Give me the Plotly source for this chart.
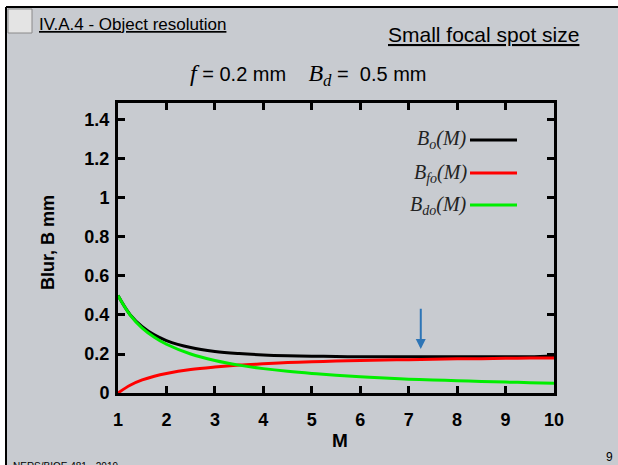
import plotly.graph_objects as go

# ---- data ----
M = [1, 1.25, 1.5, 1.75, 2, 2.5, 3, 3.5, 4, 4.5, 5, 5.5, 6, 6.5, 7, 7.5, 8, 8.5, 9, 9.5, 10]
B_o = [0.5, 0.402, 0.340, 0.298, 0.269, 0.233, 0.213, 0.202, 0.195, 0.191, 0.189, 0.187,
       0.186, 0.186, 0.186, 0.186, 0.186, 0.186, 0.186, 0.186, 0.19]
B_fo = [0.0, 0.04, 0.067, 0.086, 0.1, 0.12, 0.133, 0.143, 0.15, 0.156, 0.16, 0.164,
        0.167, 0.169, 0.171, 0.173, 0.175, 0.176, 0.178, 0.179, 0.18]
B_do = [0.5, 0.4, 0.333, 0.286, 0.25, 0.2, 0.167, 0.143, 0.125, 0.111, 0.1, 0.091,
        0.083, 0.077, 0.071, 0.067, 0.063, 0.059, 0.056, 0.053, 0.05]
x_ticks = [1, 2, 3, 4, 5, 6, 7, 8, 9, 10]
y_ticks = [0, 0.2, 0.4, 0.6, 0.8, 1, 1.2, 1.4]
y_tick_labels = ["0", "0.2", "0.4", "0.6", "0.8", "1", "1.2", "1.4"]
series_names = ["B<sub>o</sub>(M)", "B<sub>fo</sub>(M)", "B<sub>do</sub>(M)"]
colors = ["#000000", "#ff0000", "#00ee00"]
arrow_M = 7.25

W, H = 618, 465
BG = "#c8cbd0"

def px(x):
    return x / W

def py(y):
    return 1 - y / H

fig = go.Figure()
for name, ys, c in zip(series_names, [B_o, B_fo, B_do], colors):
    fig.add_trace(go.Scatter(x=M, y=ys, mode="lines", name=name,
                             line=dict(color=c, width=3, shape="spline"),
                             showlegend=False, hoverinfo="skip"))

P = dict(xref="paper", yref="paper")
shapes = [
    dict(type="rect", x0=px(6), x1=1, y0=0, y1=py(7),
         fillcolor=BG, line=dict(width=0), layer="below", **P),
    dict(type="line", x0=px(6), x1=1, y0=py(7), y1=py(7),
         line=dict(color="black", width=2), **P),
    dict(type="line", x0=px(6), x1=px(6), y0=0, y1=py(7),
         line=dict(color="black", width=2), **P),
    dict(type="rect", x0=px(8), x1=px(32), y0=py(33), y1=py(9),
         fillcolor="#e4e4e4", line=dict(color="#8a8a8a", width=1), **P),
]
leg_y = [140, 173, 205]
for yy, c in zip(leg_y, colors):
    shapes.append(dict(type="line", x0=px(470), x1=px(517),
                       y0=py(yy), y1=py(yy), line=dict(color=c, width=3), **P))

serif_i = "font-family:Liberation Serif;font-style:italic;font-size:24px"
annotations = [
    dict(text="<u>IV.A.4 - Object resolution</u>", x=px(37), y=py(24), xanchor="left",
         yanchor="middle", showarrow=False,
         font=dict(family="Liberation Sans", size=17, color="black"), **P),
    dict(text="<u>Small focal spot size</u>", x=px(581), y=py(34), xanchor="right",
         yanchor="middle", showarrow=False,
         font=dict(family="Liberation Sans", size=21, color="black"), **P),
    dict(text=f"<span style='{serif_i}'>f</span> = 0.2 mm"
              f"&#160;&#160;&#160;&#160;<span style='{serif_i}'>B<sub>d</sub></span> =&#160; 0.5 mm",
         x=px(308), y=py(75), xanchor="center", yanchor="middle", showarrow=False,
         font=dict(family="Liberation Sans", size=20, color="black"), **P),
    dict(text="<b>Blur, B mm</b>", x=px(48), y=py(242), textangle=-90, xanchor="center",
         yanchor="middle", showarrow=False,
         font=dict(family="Liberation Sans", size=18, color="black"), **P),
    dict(text="<b>M</b>", x=px(340), y=py(440), xanchor="center", yanchor="middle",
         showarrow=False, font=dict(family="Liberation Sans", size=19, color="black"), **P),
    dict(text="NERS/BIOE 481 - 2019", x=px(11), y=py(466), xanchor="left", yanchor="middle",
         showarrow=False, font=dict(family="Liberation Sans", size=10, color="black"), **P),
    dict(text="9", x=px(615), y=py(457), xanchor="right", yanchor="middle",
         showarrow=False, font=dict(family="Liberation Sans", size=12, color="black"), **P),
    dict(x=arrow_M, y=0.225, ax=arrow_M, ay=0.44, xref="x", yref="y", axref="x", ayref="y",
         text="", showarrow=True, arrowhead=2, arrowsize=1, arrowwidth=2, arrowcolor="#2e75b6"),
]
for yy, name in zip(leg_y, series_names):
    annotations.append(dict(text=name, x=px(469), y=py(yy), xanchor="right", yanchor="middle",
                            showarrow=False,
                            font=dict(family="Liberation Serif", size=20, color="#222222",
                                      style="italic"), **P))

fig.update_layout(
    width=W, height=H,
    margin=dict(l=0, r=0, t=0, b=0, pad=0, autoexpand=False),
    paper_bgcolor="white",
    plot_bgcolor="rgba(0,0,0,0)",
    shapes=shapes,
    annotations=annotations,
    showlegend=False,
    xaxis=dict(domain=[px(118), px(554)], range=[1, 10], tickvals=x_ticks,
               ticks="inside", ticklen=7, tickwidth=3, tickcolor="black",
               showline=True, linecolor="black", linewidth=3, mirror="ticks",
               showgrid=False, zeroline=False, ticklabelstandoff=8, automargin=False,
               tickfont=dict(family="Liberation Sans", size=18, color="black", weight="bold")),
    yaxis=dict(domain=[1 - 393 / H, 1 - 103 / H], range=[0, 1.487], tickvals=y_ticks,
               ticktext=y_tick_labels,
               ticks="inside", ticklen=7, tickwidth=3, tickcolor="black",
               showline=True, linecolor="black", linewidth=3, mirror="ticks",
               showgrid=False, zeroline=False, ticklabelstandoff=2, automargin=False,
               tickfont=dict(family="Liberation Sans", size=18, color="black", weight="bold")),
)

post = ("document.body.style.margin='0';document.body.style.overflow='hidden';"
        "var d=document.getElementById('{plot_id}');"
        "d.style.position='fixed';d.style.left='0px';d.style.top='0px';")
fig.write_html("out.html", post_script=post, config={"displayModeBar": False})
